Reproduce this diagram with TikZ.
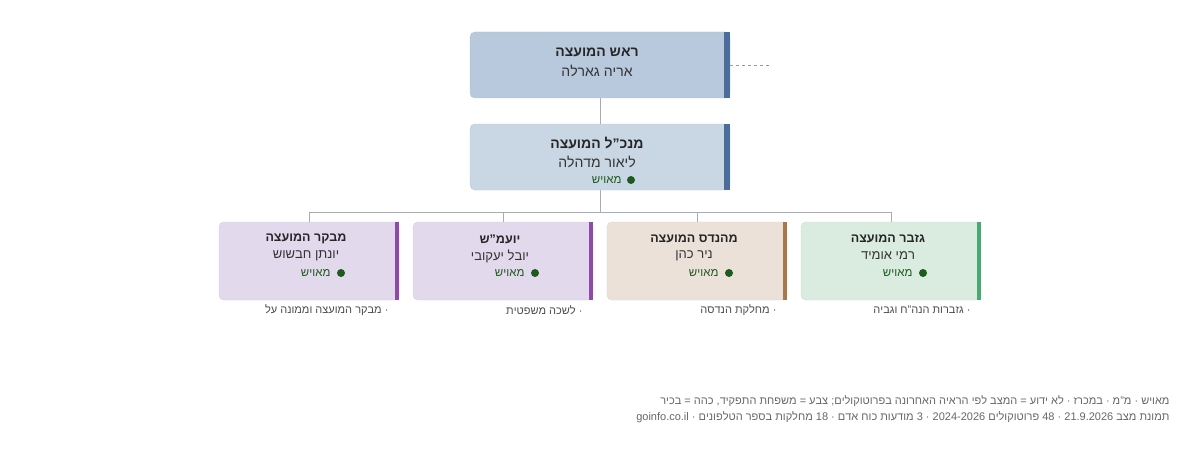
\documentclass[tikz,border=0pt]{standalone}
\usepackage{fontspec}
\setmainfont{Liberation Sans}
\TeXXeTstate=1
\newcommand\RL[1]{\beginR #1\endR}
\newcommand\LRx[1]{\beginL #1\endL}
\definecolor{topf}{HTML}{B8C9DE}
\definecolor{secf}{HTML}{C9D6E3}
\definecolor{bluebar}{HTML}{4A6E99}
\definecolor{purf}{HTML}{E3D9EC}
\definecolor{purbar}{HTML}{8E4AA6}
\definecolor{brnf}{HTML}{EBE1D9}
\definecolor{brnbar}{HTML}{A8784A}
\definecolor{grnf}{HTML}{DAECE0}
\definecolor{grnbar}{HTML}{4AA872}
\definecolor{ok}{HTML}{1E5A1E}
\definecolor{ln}{HTML}{A8ADB3}
\begin{document}
\begin{tikzpicture}[x=1pt,y=-1pt,
 box/.style={rounded corners=5pt,draw=#1!80!gray,line width=0.6pt},
 ttl/.style={font=\bfseries\fontsize{14}{16}\selectfont,text=black!85},
 nm/.style={font=\fontsize{14}{16}\selectfont,text=black!80},
 sttl/.style={font=\bfseries\fontsize{12.5}{14}\selectfont,text=black!85},
 snm/.style={font=\fontsize{13}{15}\selectfont,text=black!80},
 st/.style={font=\fontsize{11.5}{13}\selectfont,text=ok,anchor=east},
 dept/.style={font=\fontsize{11}{13}\selectfont,text=black!70,anchor=east},
 foot/.style={font=\fontsize{11}{13}\selectfont,text=black!60,anchor=east},
 conn/.style={draw=ln,line width=0.8pt}]
\useasboundingbox (0,0) rectangle (1200,452);
% connectors
\coordinate (j) at (600,212);
\draw[conn] (600,98) -- (600,124);
\draw[conn] (600,190) -- (j);
\draw[conn] (309,222) -- (309,212) -- (891,212) -- (891,222);
\draw[conn] (503,212) -- (503,222);
\draw[conn] (697,212) -- (697,222);
\draw[draw=gray!80,dashed,line width=0.8pt] (730,65) -- (770,65);
% top
\fill[topf,rounded corners=5pt,draw=topf!85!gray] (470,32) rectangle (730,98);
\fill[bluebar] (724,32) rectangle (730,98);
\node[ttl] (t1) at (597,52) {\RL{ראש המועצה}};
\node[nm] (n1) at (597,71) {\RL{אריה גארלה}};
% second
\fill[secf,rounded corners=5pt,draw=secf!85!gray] (470,124) rectangle (730,190);
\fill[bluebar] (724,124) rectangle (730,190);
\node[ttl] (t2) at (597,143) {\RL{מנכ"ל המועצה}};
\node[nm] (n2) at (597,162) {\RL{ליאור מדהלה}};
\node[st] (s2) at (625,180) {\RL{מאויש}};
\fill[ok] (631,180) circle (4pt);
% bottom boxes
\foreach \x/\f/\b/\t/\n/\d in {
 219/purf/purbar/{מבקר המועצה}/{יונתן חבשוש}/{· מבקר המועצה וממונה על},
 413/purf/purbar/{יועמ"ש}/{יובל יעקובי}/{· לשכה משפטית},
 607/brnf/brnbar/{מהנדס המועצה}/{ניר כהן}/{· מחלקת הנדסה},
 801/grnf/grnbar/{גזבר המועצה}/{רמי אומיד}/{· גזברות הנה"ח וגביה}}{
 \fill[\f,rounded corners=5pt,draw=\f!85!gray] (\x,222) rectangle ({\x+180},300);
 \fill[\b] ({\x+176},222) rectangle ({\x+180},300);
 \node[sttl] at ({\x+87},239) {\RL{\t}};
 \node[snm] at ({\x+87},256) {\RL{\n}};
 \node[st] at ({\x+115},273) {\RL{מאויש}};
 \fill[ok] ({\x+122},273) circle (4pt);
 \node[dept] at ({\x+173},310) {\RL{\d}};
}
% footer
\node[foot] (f1) at (1173,401) {\RL{מאויש · מ"מ · במכרז · לא ידוע = המצב לפי הראיה האחרונה בפרוטוקולים; צבע = משפחת התפקיד, כהה = בכיר}};
\node[foot] (f2) at (1173,417) {\RL{תמונת מצב \LRx{21.9.2026} · \LRx{48} פרוטוקולים \LRx{2024-2026} · \LRx{3} מודעות כוח אדם · \LRx{18} מחלקות בספר הטלפונים · \LRx{goinfo.co.il}}};
\end{tikzpicture}
\end{document}
